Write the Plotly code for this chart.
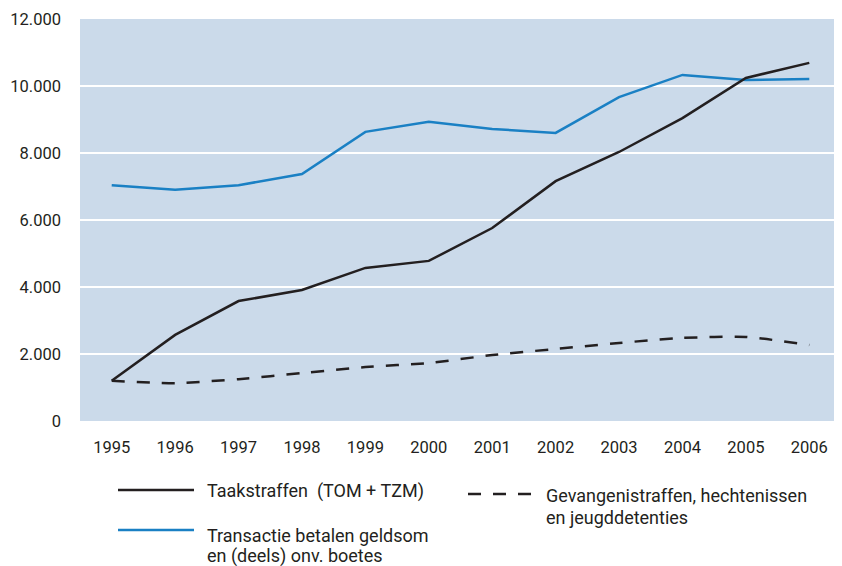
import plotly.graph_objects as go

years = ["1995", "1996", "1997", "1998", "1999", "2000",
         "2001", "2002", "2003", "2004", "2005", "2006"]
taakstraffen = [1200, 2570, 3580, 3910, 4570, 4780, 5760, 7160, 8030, 9040, 10240, 10690]
transactie = [7040, 6900, 7040, 7370, 8630, 8930, 8720, 8600, 9670, 10330, 10180, 10210]
gevangenis = [1200, 1130, 1250, 1430, 1610, 1730, 1970, 2150, 2330, 2480, 2510, 2270]
y_ticks = [0, 2000, 4000, 6000, 8000, 10000, 12000]

BLACK = "#231f20"
BLUE = "#1a80c4"
FONT = "Roboto"

fig = go.Figure()
fig.add_trace(go.Scatter(x=years, y=transactie, mode="lines",
                         line=dict(color=BLUE, width=2.5)))
fig.add_trace(go.Scatter(x=years, y=gevangenis, mode="lines",
                         line=dict(color=BLACK, width=2.5, dash="13px,12px", shape="spline", smoothing=0.5)))
fig.add_trace(go.Scatter(x=years, y=taakstraffen, mode="lines",
                         line=dict(color=BLACK, width=2.5)))

# page has an 8px body margin; plot area sits at screen x 80..841, y 19..421
def px_x(p):
    return (p - 80) / 761

def px_y(p):
    return (421 - p) / 402

# hand-placed legend below the plot
legend_lines = [
    (118, 194, 490, BLACK, "solid"),
    (118, 194, 530, BLUE, "solid"),
    (468, 537, 494, BLACK, "13px,12px"),
]
legend_texts = [
    (205, 491, "Taakstraffen  (TOM + TZM)"),
    (205, 535, "Transactie betalen geldsom"),
    (205, 556, "en (deels) onv. boetes"),
    (544, 495, "Gevangenistraffen, hechtenissen"),
    (544, 517, "en jeugddetenties"),
]
for x0, x1, ly, col, dash in legend_lines:
    fig.add_shape(type="line", xref="paper", yref="paper",
                  x0=px_x(x0), x1=px_x(x1), y0=px_y(ly), y1=px_y(ly),
                  line=dict(color=col, width=2.5, dash=dash))
for tx, ty, label in legend_texts:
    fig.add_annotation(xref="paper", yref="paper", x=px_x(tx), y=px_y(ty),
                       text=label, showarrow=False, xanchor="left", yanchor="middle",
                       align="left", font=dict(family=FONT, size=18, color=BLACK))

fig.update_layout(
    width=834, height=558,
    margin=dict(l=72, r=1, t=11, b=145),
    paper_bgcolor="white",
    plot_bgcolor="#cbdaea",
    showlegend=False,
    separators=",.",
    font=dict(family=FONT, size=16, color=BLACK),
)
fig.update_xaxes(type="category", range=[-0.5, 11.5], showgrid=False,
                 showline=False, ticks="", ticklabelstandoff=14,
                 tickfont=dict(family=FONT, size=16.5, color=BLACK))
fig.update_yaxes(range=[0, 12000], tickvals=y_ticks, tickformat=",d",
                 showgrid=True, gridcolor="white", gridwidth=2,
                 zeroline=False, showline=False, ticks="", ticklabelstandoff=18,
                 tickfont=dict(family=FONT, size=16.5, color=BLACK))

fig.write_html("out.html")
